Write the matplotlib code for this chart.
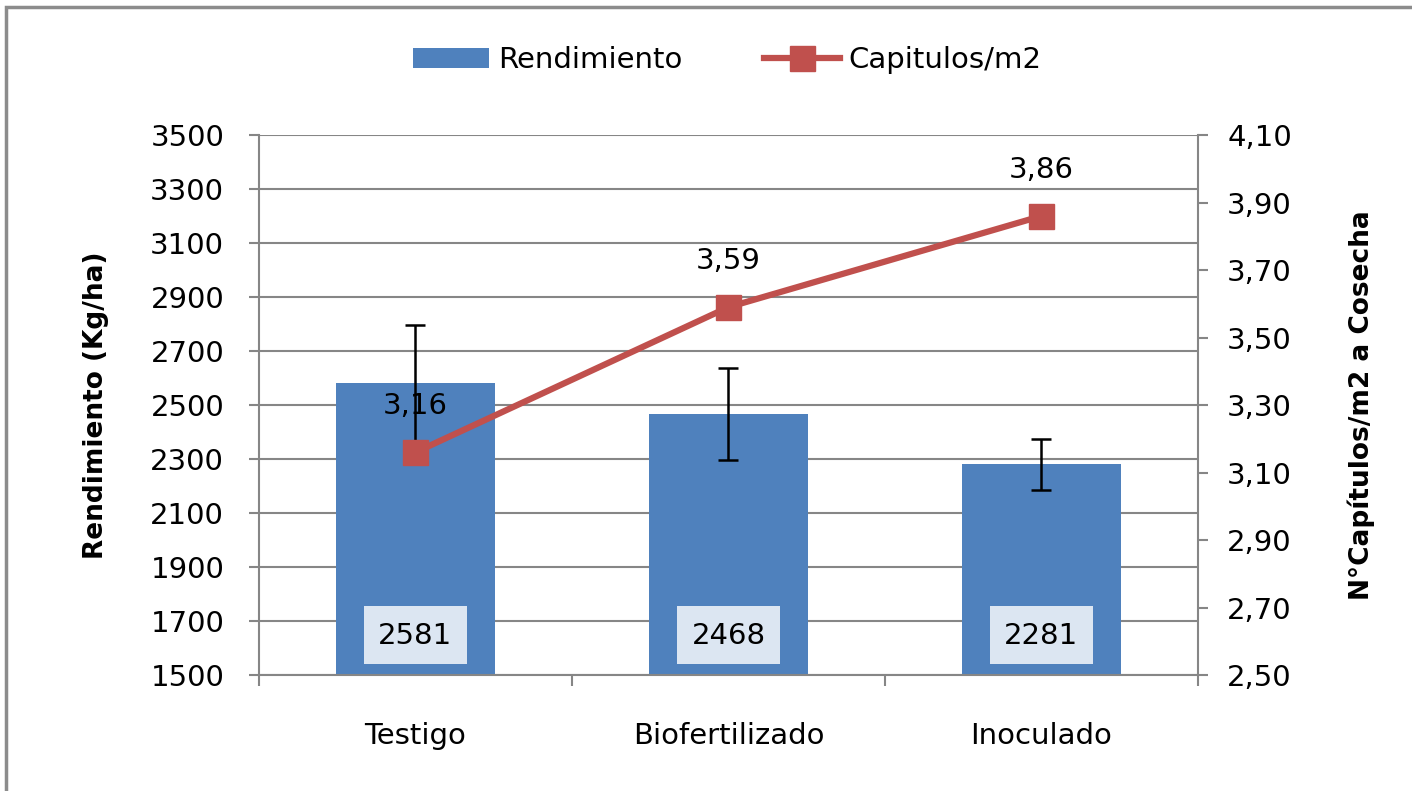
import numpy as np
import matplotlib.pyplot as plt
from matplotlib.patches import Rectangle

plt.rcParams['font.family'] = ['DejaVu Sans']

# data
categories = ['Testigo', 'Biofertilizado', 'Inoculado']
rendimiento = [2581, 2468, 2281]
rend_err = [215, 170, 95]
capitulos = [3.16, 3.59, 3.86]

bar_color = '#4f81bd'
line_color = '#c0504d'
grid_color = '#868686'

fig = plt.figure(figsize=(14.12, 7.91), dpi=100)
ax = fig.add_axes([0.1834, 0.1466, 0.665, 0.6827])
ax2 = ax.twinx()

x = np.arange(len(categories))

# bars with error bars
ax.bar(x, rendimiento, width=0.51, color=bar_color, zorder=2,
       label='Rendimiento')
ax.errorbar(x, rendimiento, yerr=rend_err, fmt='none', ecolor='black',
            elinewidth=1.8, capsize=7, capthick=1.8, zorder=3)

# value boxes at the base of each bar
for xi, v in zip(x, rendimiento):
    ax.add_patch(Rectangle((xi - 0.165, 1540), 0.33, 215,
                           facecolor='#dce6f2', edgecolor='none', zorder=4))
    ax.text(xi, 1645, str(v), ha='center', va='center', fontsize=21,
            zorder=5)

ax.set_xlim(-0.5, 2.5)
ax.set_ylim(1500, 3500)
ax.set_yticks(np.arange(1500, 3501, 200))
ax.yaxis.grid(True, color=grid_color, linewidth=1.5, zorder=0)
ax.set_axisbelow(True)
ax.set_xticks(x)
ax.set_xticklabels(categories)
ax.set_xticks([-0.5, 0.5, 1.5, 2.5], minor=True)
ax.tick_params(axis='x', which='major', length=0, pad=34, labelsize=21)
ax.tick_params(axis='x', which='minor', length=8, width=1.5, color=grid_color)
ax.tick_params(axis='y', length=7, width=1.5, color=grid_color, pad=18,
               labelsize=21)
ax.set_ylabel('Rendimiento (Kg/ha)', fontsize=19, fontweight='bold',
              labelpad=30)

for s in ['top', 'right']:
    ax.spines[s].set_visible(False)
for s in ['left', 'bottom']:
    ax.spines[s].set_color(grid_color)
    ax.spines[s].set_linewidth(1.5)

# line on the secondary axis
ax2.plot(x, capitulos, color=line_color, linewidth=4.5, marker='s',
         markersize=18, zorder=5, label='Capitulos/m2')
for xi, v in zip(x, capitulos):
    ax2.annotate(f'{v:.2f}'.replace('.', ','), (xi, v), xytext=(0, 33),
                 textcoords='offset points', ha='center', va='center',
                 fontsize=21)

ax2.set_ylim(2.5, 4.1)
ax2.set_yticks(np.arange(2.5, 4.11, 0.2))
ax2.set_yticklabels([f'{t:.2f}'.replace('.', ',') for t in np.arange(2.5, 4.11, 0.2)])
ax2.tick_params(axis='y', length=7, width=1.5, color=grid_color, pad=14,
                labelsize=21)
ax2.set_ylabel('N°Capítulos/m2 a Cosecha', fontsize=19, fontweight='bold',
               labelpad=40)
for s in ['top', 'left', 'bottom']:
    ax2.spines[s].set_visible(False)
ax2.spines['right'].set_color(grid_color)
ax2.spines['right'].set_linewidth(1.5)

# legend
h1, l1 = ax.get_legend_handles_labels()
h2, l2 = ax2.get_legend_handles_labels()
fig.legend(h1 + h2, l1 + l2, loc='center', bbox_to_anchor=(0.515, 0.924),
           ncol=2, frameon=False, fontsize=21, handlelength=2.6,
           columnspacing=2.8, handletextpad=0.3)

# outer chart border (cut off at right/bottom)
fig.patches.append(Rectangle((6 / 1412, -0.1), 1.2, 1.1 - 7 / 791,
                             transform=fig.transFigure, fill=False,
                             edgecolor='#8c8c8c', linewidth=2.5))

fig.savefig('out.png', dpi=100)
